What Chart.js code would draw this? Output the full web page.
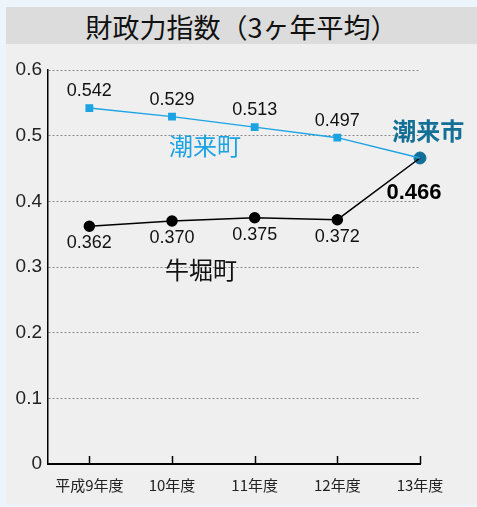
<!DOCTYPE html>
<html>
<head>
<meta charset="utf-8">
<script src="https://cdn.jsdelivr.net/npm/chart.js@4.4.1/dist/chart.umd.min.js"></script>
<style>
  html, body { margin: 0; padding: 0; }
  body { width: 477px; height: 507px; background: #ecf4fc; position: relative; overflow: hidden; }
  #panel { position: absolute; left: 6px; top: 7px; width: 471px; height: 498px; background: #efefef; }
  #title { height: 37px; line-height: 37px; background: #dcdcdc; text-align: center;
    font: 27px "Noto Sans CJK JP", sans-serif; color: #111; }
  #chart { position: absolute; left: 0; top: 37px; }
</style>
</head>
<body>
<div id="panel">
  <div id="title">財政力指数（3ヶ年平均）</div>
  <canvas id="chart" width="471" height="461"></canvas>
</div>
<script>
const years = ["平成9年度", "10年度", "11年度", "12年度", "13年度"];
const itakoTown = [0.542, 0.529, 0.513, 0.497, 0.466];   // 潮来町
const ushiboriTown = [0.362, 0.370, 0.375, 0.372, 0.466]; // 牛堀町
const itakoCity = [null, null, null, null, 0.466];       // 潮来市 (merged)
const yTicks = [0, 0.1, 0.2, 0.3, 0.4, 0.5, 0.6];

const BLUE = "#1ba3e3";
const TEAL = "#136f96";
const NUM_FONT = '"Liberation Sans", Arial, sans-serif';
const JP_FONT = '"Noto Sans CJK JP", sans-serif';

const toPts = (arr) => arr.map((v, i) => ({ x: i, y: v }));

/* value labels next to points + series names */
const labelPlugin = {
  id: "labels",
  afterDatasetsDraw(chart) {
    const ctx = chart.ctx;
    const xs = chart.scales.x, ys = chart.scales.y;
    ctx.save();
    ctx.textAlign = "center";
    ctx.textBaseline = "middle";
    chart.data.datasets.forEach((ds, di) => {
      const meta = chart.getDatasetMeta(di);
      const opt = ds.valueLabels;
      if (!opt) return;
      meta.data.forEach((pt, i) => {
        const v = ds.data[i].y;
        if (v == null || !opt.show[i]) return;
        ctx.font = opt.font;
        ctx.fillStyle = opt.color;
        ctx.fillText(v.toFixed(3), pt.x + opt.dx, pt.y + opt.dy);
      });
    });
    // series names, anchored in data units
    const names = [
      { text: "潮来町", x: 1.4, y: 0.485, color: BLUE, font: "24px " + JP_FONT },
      { text: "牛堀町", x: 1.35, y: 0.296, color: "#111", font: "24px " + JP_FONT },
      { text: "潮来市", x: 4.1, y: 0.508, color: TEAL, font: "bold 24px " + JP_FONT }
    ];
    names.forEach(n => {
      ctx.font = n.font;
      ctx.fillStyle = n.color;
      ctx.fillText(n.text, xs.getPixelForValue(n.x), ys.getPixelForValue(n.y));
    });
    ctx.restore();
  }
};

/* short upward tick marks on the x axis */
const tickPlugin = {
  id: "xticks",
  afterDraw(chart) {
    const ctx = chart.ctx, xs = chart.scales.x;
    const bottom = chart.chartArea.bottom;
    ctx.save();
    ctx.strokeStyle = "#000";
    ctx.lineWidth = 1.5;
    years.forEach((_, i) => {
      const x = Math.round(xs.getPixelForValue(i)) + 0.5;
      ctx.beginPath();
      ctx.moveTo(x, bottom);
      ctx.lineTo(x, bottom - 8);
      ctx.stroke();
    });
    ctx.restore();
  }
};

new Chart(document.getElementById("chart"), {
  type: "line",
  data: {
    datasets: [
      {
        label: "潮来町",
        data: toPts(itakoTown),
        borderColor: BLUE, backgroundColor: BLUE, borderWidth: 1.5,
        pointStyle: "rect", pointRadius: [4.5, 4.5, 4.5, 4.5, 0],
        tension: 0, clip: false,
        valueLabels: { show: [1, 1, 1, 1, 0], dx: 0, dy: -17, color: "#111", font: "18px " + NUM_FONT }
      },
      {
        label: "牛堀町",
        data: toPts(ushiboriTown),
        borderColor: "#000", backgroundColor: "#000", borderWidth: 1.5,
        pointStyle: "circle", pointRadius: [5, 5, 5, 5, 0],
        tension: 0, clip: false,
        valueLabels: { show: [1, 1, 1, 1, 0], dx: 0, dy: 17, color: "#111", font: "18px " + NUM_FONT }
      },
      {
        label: "潮来市",
        data: toPts(itakoCity),
        showLine: false,
        borderColor: TEAL, backgroundColor: TEAL,
        pointStyle: "circle", pointRadius: 6, clip: false,
        valueLabels: { show: [0, 0, 0, 0, 1], dx: -6, dy: 35, color: "#000", font: "bold 22px " + NUM_FONT }
      }
    ]
  },
  options: {
    responsive: false,
    devicePixelRatio: 1,
    animation: false,
    layout: { padding: { left: 0, right: 57, top: 26, bottom: 0 } },
    plugins: { legend: { display: false }, tooltip: { enabled: false } },
    scales: {
      x: {
        type: "linear",
        min: -0.5, max: 4,
        afterBuildTicks: (s) => { s.ticks = years.map((_, i) => ({ value: i })); },
        afterFit: (s) => { s.height = 41; },
        ticks: {
          callback: (v) => years[v],
          font: { family: JP_FONT, size: 15 },
          color: "#222",
          padding: 12,
          maxRotation: 0
        },
        grid: { display: true, drawOnChartArea: false, drawTicks: false },
        border: { color: "#000", width: 2 }
      },
      y: {
        min: 0, max: 0.6,
        afterBuildTicks: (s) => { s.ticks = yTicks.map(v => ({ value: v })); },
        afterFit: (s) => { s.width = 42; },
        ticks: {
          callback: (v) => v === 0 ? "0" : v.toFixed(1),
          font: { family: NUM_FONT, size: 19 },
          color: "#222",
          padding: 6
        },
        grid: {
          drawTicks: false,
          color: (c) => c.tick && c.tick.value === 0 ? "rgba(0,0,0,0)" : "#8a8a8a",
          lineWidth: 1
        },
        border: { color: "#000", width: 1.5, dash: [2, 2] }
      }
    }
  },
  plugins: [labelPlugin, tickPlugin]
});
</script>
</body>
</html>
